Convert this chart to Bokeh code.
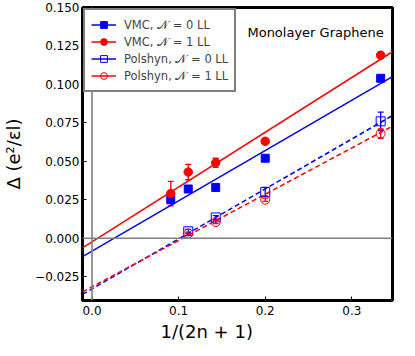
from bokeh.plotting import figure
from bokeh.models import (ColumnDataSource, Range1d, FixedTicker, Whisker, TeeHead,
                          Legend, LegendItem, Label, Span, Title)
from bokeh.embed import file_html
from bokeh.resources import INLINE
import numpy as np

# ---- data ----
x_vmc = [1/11, 1/9, 1/7, 1/5, 1/3]
vmc_n0 = [0.025, 0.032, 0.033, 0.052, 0.104]
vmc_n1 = [0.029, 0.043, 0.049, 0.063, 0.119]
vmc_n1_err = [0.008, 0.005, 0.003, 0.0, 0.002]

x_pol = [1/9, 1/7, 1/5, 1/3]
pol_n0 = [0.0045, 0.0135, 0.030, 0.076]
pol_n0_err = [0.0012, 0.0012, 0.003, 0.006]
pol_n1 = [0.003, 0.0105, 0.025, 0.068]
pol_n1_err = [0.001, 0.001, 0.001, 0.003]

# linear fits: intercept, slope
fit_vmc_n0 = (-0.0084, 0.327)
fit_vmc_n1 = (-0.0023, 0.356)
fit_pol_n0 = (-0.0330, 0.325)
fit_pol_n1 = (-0.0316, 0.301)

x_ticks = [0.0, 0.1, 0.2, 0.3]
y_ticks = [-0.025, 0.0, 0.025, 0.05, 0.075, 0.1, 0.125, 0.15]

labels = ["VMC, \U0001D4A9 = 0 LL", "VMC, \U0001D4A9 = 1 LL",
          "Polshyn, \U0001D4A9 = 0 LL", "Polshyn, \U0001D4A9 = 1 LL"]

BLUE = "#0000ff"
RED = "#ff0000"
FONT = "DejaVu Sans"

xr = Range1d(-0.011, 0.347)
yr = Range1d(-0.0405, 0.150)

p = figure(width=399, height=343, x_range=xr, y_range=yr,
           output_backend="svg", toolbar_location=None,
           min_border_left=82, min_border_right=7,
           min_border_top=7, min_border_bottom=40)
p.grid.visible = False
p.outline_line_color = "black"
p.outline_line_width = 3
p.background_fill_color = "white"
p.border_fill_color = "white"

# reference lines
p.add_layout(Span(location=0, dimension="width", line_color="#808080", line_width=1.6))
p.add_layout(Span(location=0, dimension="height", line_color="#808080", line_width=1.6))

# fit lines
xs_fit = np.array([xr.start, xr.end])
def fit_line(params, color, dash):
    b, m = params
    p.line(xs_fit, b + m * xs_fit, line_color=color, line_width=1.5, line_dash=dash)

fit_line(fit_vmc_n0, BLUE, "solid")
fit_line(fit_vmc_n1, RED, "solid")
fit_line(fit_pol_n0, BLUE, "5 3")
fit_line(fit_pol_n1, RED, "5 3")

def whiskers(xv, yv, ev, color):
    src = ColumnDataSource(dict(x=xv, up=[a + e for a, e in zip(yv, ev)],
                                lo=[a - e for a, e in zip(yv, ev)]))
    w = Whisker(source=src, base="x", upper="up", lower="lo",
                line_color=color, line_width=1.3,
                upper_head=TeeHead(size=6, line_color=color, line_width=1.3),
                lower_head=TeeHead(size=6, line_color=color, line_width=1.3))
    p.add_layout(w)

whiskers(x_vmc, vmc_n1, vmc_n1_err, RED)
whiskers(x_pol, pol_n0, pol_n0_err, BLUE)
whiskers(x_pol, pol_n1, pol_n1_err, RED)

r0 = p.scatter(x_vmc, vmc_n0, marker="square", size=8, fill_color=BLUE, line_color=BLUE)
r1 = p.scatter(x_vmc, vmc_n1, marker="circle", size=8.5, fill_color=RED, line_color=RED)
r2 = p.scatter(x_pol, pol_n0, marker="square", size=9, fill_color=None, line_color=BLUE, line_width=1)
r3 = p.scatter(x_pol, pol_n1, marker="circle", size=9, fill_color=None, line_color=RED, line_width=1)

# legend line handles (no visible data, legend only)
nan_src = ColumnDataSource(dict(x=[float("nan")], y=[float("nan")]))
l0 = p.line("x", "y", source=nan_src, line_color=BLUE, line_width=1.5)
l1 = p.line("x", "y", source=nan_src, line_color=RED, line_width=1.5)
l2 = p.line("x", "y", source=nan_src, line_color=BLUE, line_width=1.5)
l3 = p.line("x", "y", source=nan_src, line_color=RED, line_width=1.5)

legend = Legend(items=[LegendItem(label=labels[0], renderers=[l0, r0]),
                       LegendItem(label=labels[1], renderers=[l1, r1]),
                       LegendItem(label=labels[2], renderers=[l2, r2]),
                       LegendItem(label=labels[3], renderers=[l3, r3])],
                location="top_left")
legend.margin = 1
legend.padding = 6
legend.spacing = 0
legend.glyph_width = 25
legend.glyph_height = 17
legend.label_standoff = 8
legend.label_text_font = FONT
legend.label_text_font_size = "11.5px"
legend.label_height = 17
legend.border_line_color = "black"
legend.border_line_width = 2
legend.background_fill_alpha = 1
p.add_layout(legend)

p.add_layout(Label(x=0.1795, y=0.134, text="Monolayer Graphene", text_font=FONT,
                   text_font_size="13px", text_baseline="middle", text_color="black"))

# axes
p.xaxis.ticker = FixedTicker(ticks=x_ticks)
p.xaxis.major_label_overrides = {t: f"{t:.1f}" for t in x_ticks}
p.yaxis.ticker = FixedTicker(ticks=y_ticks)
p.yaxis.major_label_overrides = {t: (f"{t:.3f}".replace("-", "\u2212")) for t in y_ticks}
for ax in (p.xaxis[0], p.yaxis[0]):
    ax.axis_line_color = None
    ax.major_tick_in = 4
    ax.major_tick_out = 0
    ax.major_tick_line_color = "black"
    ax.major_tick_line_width = 1
    ax.minor_tick_line_color = None
    ax.major_label_text_font = FONT
    ax.major_label_text_font_size = "12px"
    ax.major_label_text_color = "black"
    ax.axis_label_text_font = FONT
    ax.axis_label_text_font_size = "18px"
    ax.axis_label_text_font_style = "normal"
    ax.axis_label_text_color = "black"

p.yaxis.axis_label = "\u0394 (e\u00b2/\u03b5l)"
p.xaxis.major_label_standoff = 5
p.yaxis.major_label_standoff = 3
p.yaxis.axis_label_standoff = 8

# x-axis label, placed left of centre as in the reference
p.add_layout(Title(text="1/(2n + 1)", align="left", offset=78, standoff=3,
                   text_font=FONT, text_font_size="18px", text_font_style="normal",
                   text_color="black"), "below")

open("out.html", "w").write(file_html(p, INLINE))
